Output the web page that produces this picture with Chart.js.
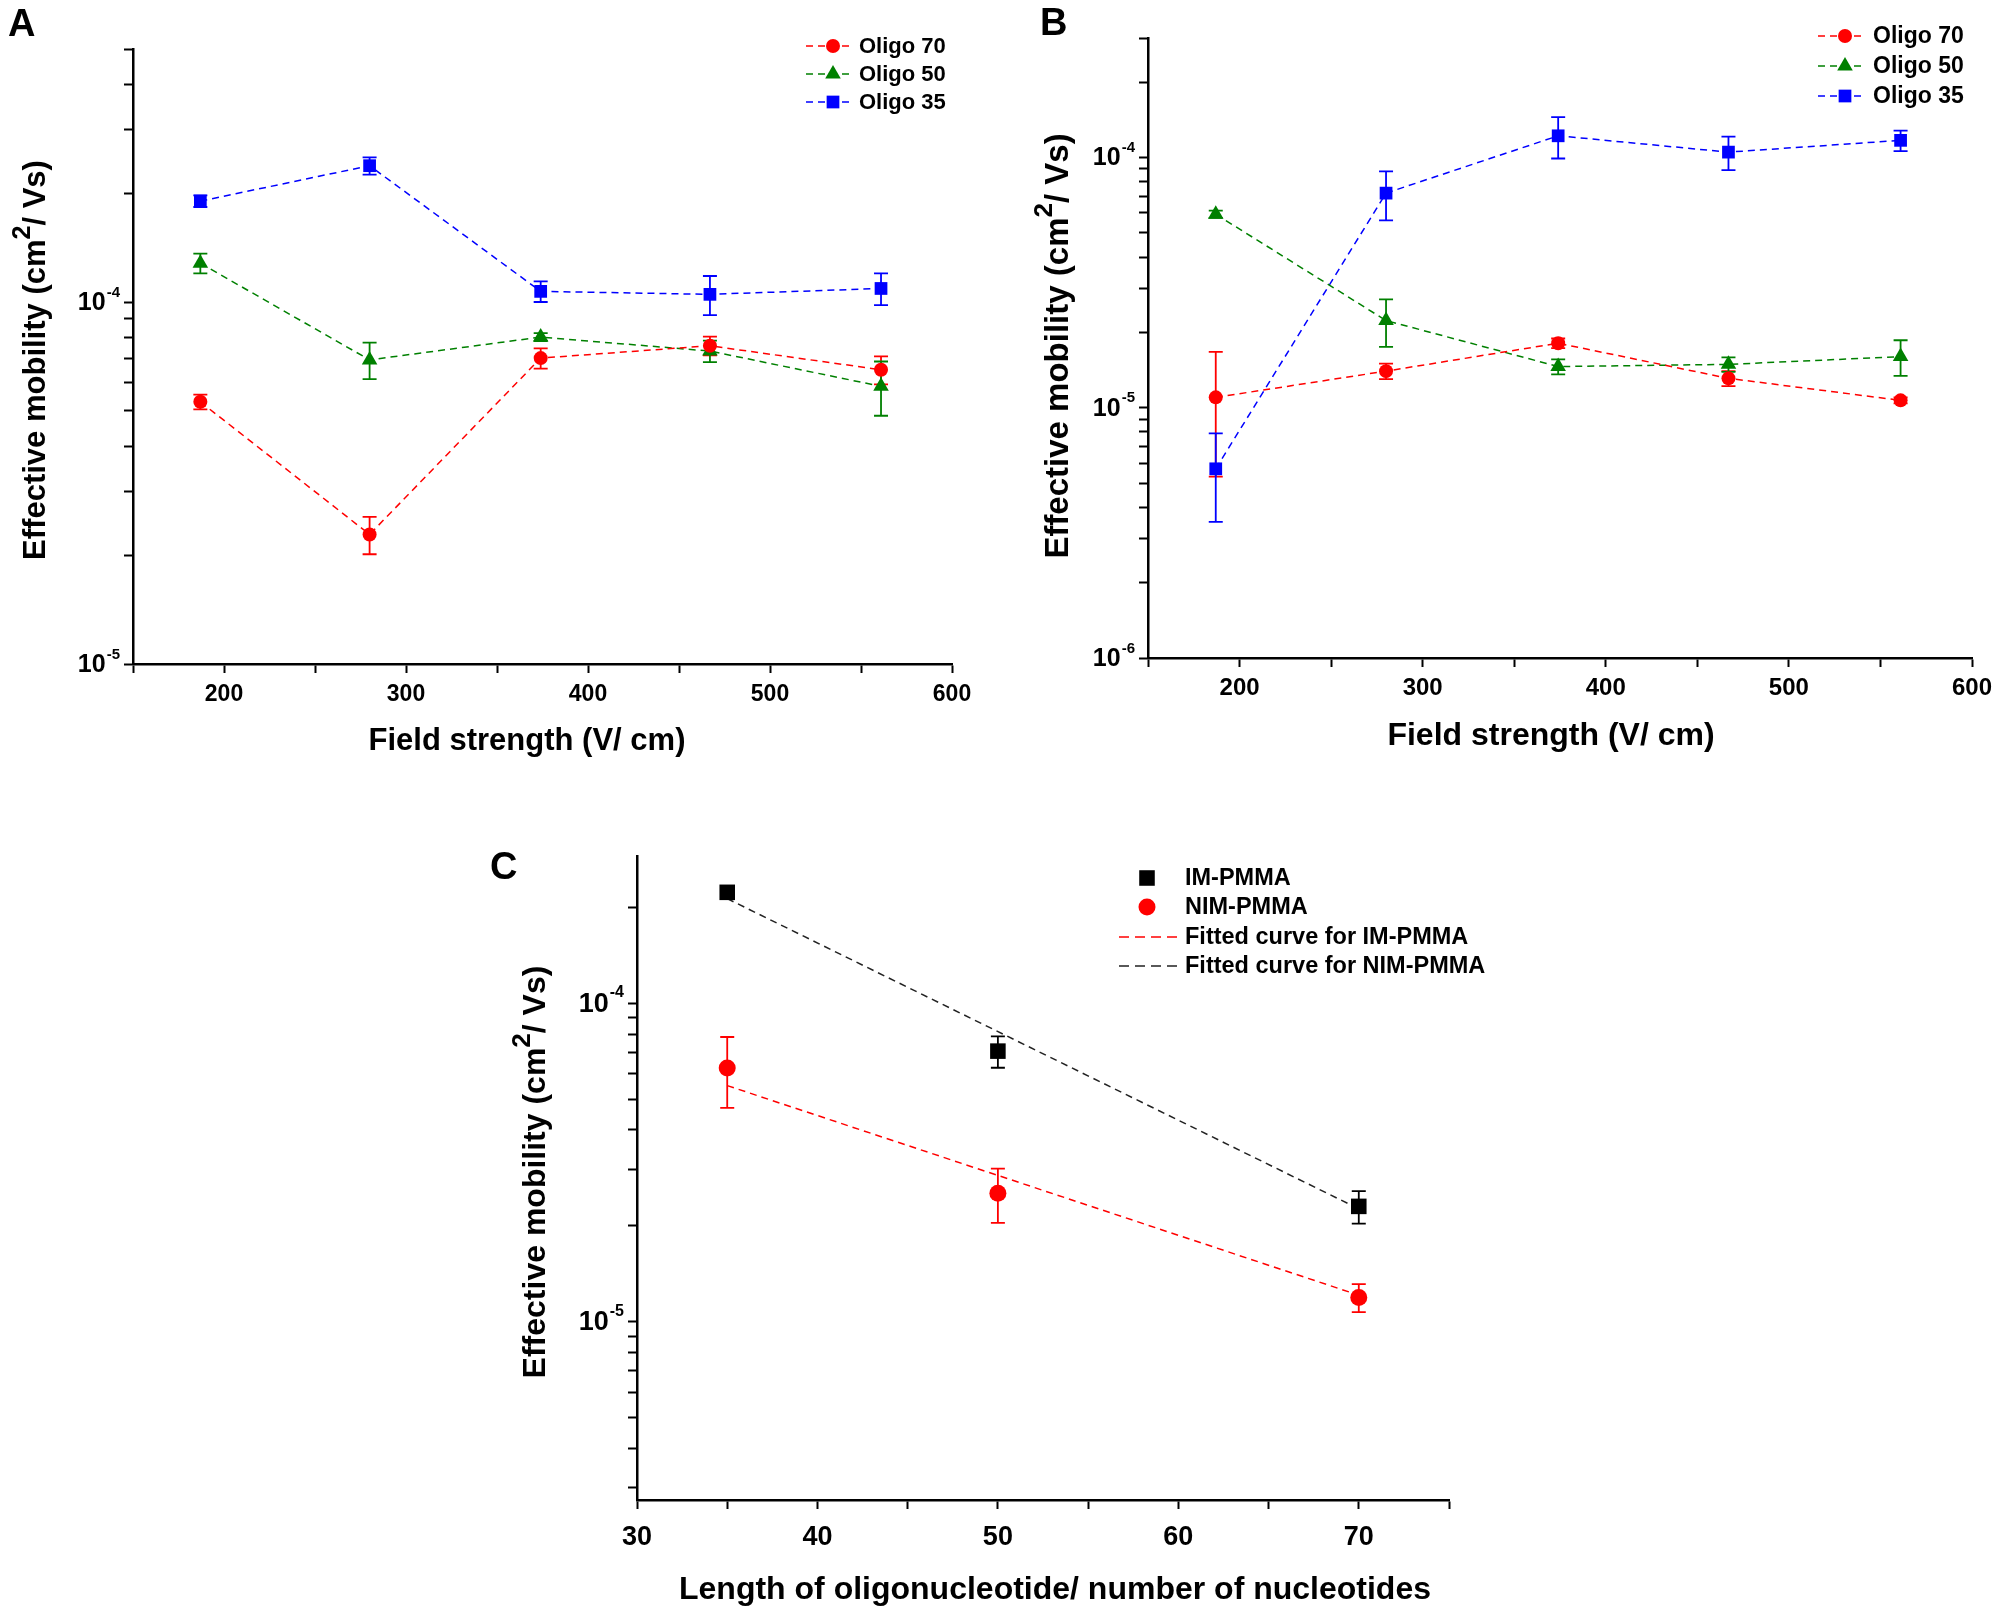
<!DOCTYPE html>
<html>
<head>
<meta charset="utf-8">
<script src="https://cdn.jsdelivr.net/npm/chart.js@4.4.0/dist/chart.umd.min.js"></script>
<style>
  body { margin: 0; background: #fff; width: 2010px; height: 1615px; position: relative; overflow: hidden; }
  canvas { position: absolute; left: 0; top: 0; }
</style>
</head>
<body>
<canvas id="chartA" width="2010" height="1615"></canvas>
<canvas id="chartB" width="2010" height="1615"></canvas>
<canvas id="chartC" width="2010" height="1615"></canvas>
<script>
// field strengths (V/cm) used in panels A and B
const fieldStrength = [187, 280, 374, 467, 561];

// panel A
const aOligo70 = [5.3e-5, 2.28e-5, 7.0e-5, 7.57e-5, 6.5e-5];
const aOligo70Err = [0.25e-5, 0.27e-5, 0.45e-5, 0.45e-5, 0.58e-5];
const aOligo50 = [1.28e-4, 6.92e-5, 8.0e-5, 7.32e-5, 5.85e-5];
const aOligo50Err = [0.08e-4, 0.8e-5, 0.2e-5, 0.5e-5, 1.0e-5];
const aOligo35 = [1.9e-4, 2.38e-4, 1.07e-4, 1.05e-4, 1.09e-4];
const aOligo35Err = [0.07e-4, 0.13e-4, 0.07e-4, 0.13e-4, 0.11e-4];

// panel B
const bOligo70 = [1.1e-5, 1.4e-5, 1.81e-5, 1.31e-5, 1.07e-5];
const bOligo70Err = [0.57e-5, 0.1e-5, 0.08e-5, 0.09e-5, 0.03e-5];
const bOligo50 = [5.93e-5, 2.23e-5, 1.46e-5, 1.49e-5, 1.6e-5];
const bOligo50Err = [0.2e-5, 0.48e-5, 0.1e-5, 0.1e-5, 0.26e-5];
const bOligo35 = [5.7e-6, 7.2e-5, 1.22e-4, 1.05e-4, 1.17e-4];
const bOligo35Err = [2.2e-6, 1.6e-5, 0.23e-4, 0.16e-4, 0.11e-4];

// panel C
const oligoLength = [35, 50, 70];
const imPmma = [2.23e-4, 7.07e-5, 2.3e-5];
const imPmmaErr = [0.1e-4, 0.8e-5, 0.27e-5];
const nimPmma = [6.26e-5, 2.53e-5, 1.19e-5];
const nimPmmaErr = [1.57e-5, 0.49e-5, 0.12e-5];
const fitLength = [35, 70];
const fitRedLine = [5.51e-5, 1.21e-5];
const fitBlackLine = [2.13e-4, 2.26e-5];

// labelled decades on the y axes
const aYDecades = [-5, -4];
const bYDecades = [-6, -5, -4];
const cYDecades = [-5, -4];

const FONT = "'Liberation Sans', Arial, sans-serif";
const RED = '#ff0000', GREEN = '#008000', BLUE = '#0000ff', BLACK = '#000000';
const Y_W = 70, X_H = 60;

Chart.defaults.font.family = FONT;

function pts(xs, ys) {
  return xs.map((x, i) => ({ x: x, y: ys[i] }));
}

// 1..9 x 10^k ticks inside the range
function logTicks(min, max) {
  const out = [];
  for (let k = Math.floor(Math.log10(min)); k <= Math.ceil(Math.log10(max)); k++) {
    for (let m = 1; m <= 9; m++) {
      const v = m * Math.pow(10, k);
      if (v >= min * 0.999 && v <= max * 1.001) out.push(v);
    }
  }
  return out;
}

function series(label, xs, ys, errs, color, style, radius, dash) {
  return {
    label: label,
    data: pts(xs, ys),
    errors: errs,
    borderColor: color,
    backgroundColor: color,
    borderWidth: 1.5,
    borderDash: dash || [7, 5],
    showLine: dash !== null,
    fill: false,
    tension: 0,
    pointStyle: style,
    pointRadius: radius,
    pointBackgroundColor: color,
    pointBorderColor: color,
    pointBorderWidth: 0
  };
}

function drawMarker(ctx, style, x, y, r, color) {
  ctx.save();
  ctx.fillStyle = color;
  ctx.beginPath();
  if (style === 'circle') {
    ctx.arc(x, y, r, 0, Math.PI * 2);
  } else if (style === 'triangle') {
    let a = 0;
    ctx.moveTo(x + Math.sin(a) * r, y - Math.cos(a) * r);
    a += 2 * Math.PI / 3;
    ctx.lineTo(x + Math.sin(a) * r, y - Math.cos(a) * r);
    a += 2 * Math.PI / 3;
    ctx.lineTo(x + Math.sin(a) * r, y - Math.cos(a) * r);
    ctx.closePath();
  } else {
    const s = r * Math.SQRT1_2;
    ctx.rect(x - s, y - s, 2 * s, 2 * s);
  }
  ctx.fill();
  ctx.restore();
}

const errorBarPlugin = {
  id: 'errorBars',
  beforeDatasetsDraw(chart) {
    const ctx = chart.ctx;
    const x = chart.scales.x, y = chart.scales.y;
    chart.data.datasets.forEach(ds => {
      if (!ds.errors) return;
      ctx.save();
      ctx.strokeStyle = ds.borderColor;
      ctx.lineWidth = 1.8;
      ds.data.forEach((p, i) => {
        const e = ds.errors[i];
        const px = x.getPixelForValue(p.x);
        const top = y.getPixelForValue(p.y + e);
        const bot = y.getPixelForValue(p.y - e);
        ctx.beginPath();
        ctx.moveTo(px, top); ctx.lineTo(px, bot);
        ctx.moveTo(px - 7, top); ctx.lineTo(px + 7, top);
        ctx.moveTo(px - 7, bot); ctx.lineTo(px + 7, bot);
        ctx.stroke();
      });
      ctx.restore();
    });
  }
};

function decorPlugin(cfg) {
  return {
    id: 'decor',
    afterDraw(chart) {
      const ctx = chart.ctx;
      const area = chart.chartArea;
      const yScale = chart.scales.y;
      ctx.save();
      ctx.fillStyle = '#000';

      // panel letter
      ctx.font = 'bold 38px ' + FONT;
      ctx.textAlign = 'left';
      ctx.textBaseline = 'alphabetic';
      ctx.fillText(cfg.letter, cfg.letterPos[0], cfg.letterPos[1]);

      // y tick labels 10^k
      ctx.textBaseline = 'middle';
      const ys = cfg.yTickSize;
      const supSize = Math.round(ys * 0.6);
      cfg.yDecades.forEach(k => {
        const py = yScale.getPixelForValue(Math.pow(10, k));
        const sup = String(k);
        ctx.font = 'bold ' + ys + 'px ' + FONT;
        const w1 = ctx.measureText('10').width;
        ctx.font = 'bold ' + supSize + 'px ' + FONT;
        const w2 = ctx.measureText(sup).width;
        const x0 = area.left - 14 - w1 - w2;
        ctx.font = 'bold ' + ys + 'px ' + FONT;
        ctx.textAlign = 'left';
        ctx.fillText('10', x0, py + 1);
        ctx.font = 'bold ' + supSize + 'px ' + FONT;
        ctx.fillText(sup, x0 + w1 + 1, py - ys * 0.38);
      });

      // x title
      ctx.font = 'bold ' + cfg.titleSize + 'px ' + FONT;
      ctx.textAlign = 'center';
      ctx.fillText(cfg.xTitle, cfg.xTitlePos[0], cfg.xTitlePos[1]);

      // y title with superscript 2
      ctx.translate(cfg.yTitlePos[0], cfg.yTitlePos[1]);
      ctx.rotate(-Math.PI / 2);
      const s = cfg.yTitleSize;
      const parts = [['Effective mobility (cm', s, 0], ['2', Math.round(s * 0.8), -s * 0.42], ['/ Vs)', s, 0]];
      let total = 0;
      parts.forEach(p => { ctx.font = 'bold ' + p[1] + 'px ' + FONT; total += ctx.measureText(p[0]).width; });
      let tx = -total / 2;
      ctx.textAlign = 'left';
      parts.forEach(p => {
        ctx.font = 'bold ' + p[1] + 'px ' + FONT;
        ctx.fillText(p[0], tx, p[2]);
        tx += ctx.measureText(p[0]).width;
      });
      ctx.restore();

      // legend
      const lg = cfg.legend;
      ctx.save();
      ctx.font = 'bold ' + lg.size + 'px ' + FONT;
      ctx.textBaseline = 'middle';
      ctx.fillStyle = '#000';
      chart.data.datasets.forEach((ds, i) => {
        const ry = lg.rows[i];
        if (ds.showLine) {
          ctx.save();
          ctx.strokeStyle = ds.borderColor;
          ctx.lineWidth = 1.5;
          ctx.setLineDash(lg.dash);
          ctx.beginPath();
          ctx.moveTo(lg.x0, ry); ctx.lineTo(lg.x1, ry);
          ctx.stroke();
          ctx.restore();
        }
        if (ds.pointRadius > 0) drawMarker(ctx, ds.pointStyle, lg.mx, ry, ds.pointRadius, ds.pointBackgroundColor);
        ctx.fillText(ds.label, lg.tx, ry + 1);
      });
      ctx.restore();
    }
  };
}

function makePanel(id, cfg) {
  return new Chart(document.getElementById(id), {
    type: 'line',
    data: { datasets: cfg.datasets },
    options: {
      responsive: false,
      animation: false,
      devicePixelRatio: 1,
      layout: {
        autoPadding: false,
        padding: {
          left: cfg.area.left - Y_W,
          top: cfg.area.top,
          right: 2010 - cfg.area.right,
          bottom: 1615 - cfg.area.bottom - X_H
        }
      },
      plugins: { legend: { display: false }, tooltip: { enabled: false } },
      scales: {
        x: {
          type: 'linear',
          min: cfg.xMin, max: cfg.xMax,
          afterFit: s => { s.height = X_H; s.paddingLeft = 0; s.paddingRight = 0; },
          border: { color: '#000', width: 2.5 },
          grid: { drawOnChartArea: false, tickLength: 9, tickWidth: 2, tickColor: '#000' },
          ticks: {
            stepSize: cfg.xStep,
            autoSkip: false,
            maxRotation: 0,
            color: '#000',
            padding: cfg.xPad,
            font: { weight: 'bold', size: cfg.tickSize },
            callback: v => (v % cfg.xLabelStep === 0 ? v : '')
          }
        },
        y: {
          type: 'logarithmic',
          min: cfg.yMin, max: cfg.yMax,
          afterBuildTicks: s => { s.ticks = logTicks(cfg.yMin, cfg.yMax).map(v => ({ value: v })); },
          afterFit: s => { s.width = Y_W; s.paddingTop = 0; s.paddingBottom = 0; },
          border: { color: '#000', width: 2.5 },
          grid: { drawOnChartArea: false, tickLength: 9, tickWidth: 2, tickColor: '#000' },
          ticks: { autoSkip: false, callback: () => '' }
        }
      }
    },
    plugins: [errorBarPlugin, decorPlugin(cfg)]
  });
}

makePanel('chartA', {
  area: { left: 133, top: 49, right: 952, bottom: 664 },
  xMin: 150, xMax: 600, xStep: 50, xLabelStep: 100, xPad: 8,
  yMin: 1e-5, yMax: 5e-4, yDecades: aYDecades,
  tickSize: 23, yTickSize: 25, titleSize: 31, yTitleSize: 31,
  letter: 'A', letterPos: [8, 36],
  xTitle: 'Field strength (V/ cm)', xTitlePos: [527, 741],
  yTitlePos: [36, 360],
  legend: { x0: 806, x1: 851, mx: 833, tx: 859, rows: [46, 74, 102], size: 22, dash: [7, 5] },
  datasets: [
    series('Oligo 70', fieldStrength, aOligo70, aOligo70Err, RED, 'circle', 7),
    series('Oligo 50', fieldStrength, aOligo50, aOligo50Err, GREEN, 'triangle', 9),
    series('Oligo 35', fieldStrength, aOligo35, aOligo35Err, BLUE, 'rect', 9)
  ]
});

makePanel('chartB', {
  area: { left: 1148, top: 38, right: 1972, bottom: 658 },
  xMin: 150, xMax: 600, xStep: 50, xLabelStep: 100, xPad: 7,
  yMin: 1e-6, yMax: 3e-4, yDecades: bYDecades,
  tickSize: 24, yTickSize: 25, titleSize: 32, yTitleSize: 33,
  letter: 'B', letterPos: [1040, 35],
  xTitle: 'Field strength (V/ cm)', xTitlePos: [1551, 736],
  yTitlePos: [1059, 346],
  legend: { x0: 1818, x1: 1866, mx: 1845, tx: 1873, rows: [36, 66, 96], size: 23, dash: [7, 5] },
  datasets: [
    series('Oligo 70', fieldStrength, bOligo70, bOligo70Err, RED, 'circle', 7),
    series('Oligo 50', fieldStrength, bOligo50, bOligo50Err, GREEN, 'triangle', 9),
    series('Oligo 35', fieldStrength, bOligo35, bOligo35Err, BLUE, 'rect', 9)
  ]
});

makePanel('chartC', {
  area: { left: 637, top: 856, right: 1449, bottom: 1500 },
  xMin: 30, xMax: 75, xStep: 5, xLabelStep: 10, xPad: 12,
  yMin: 2.75e-6, yMax: 2.9e-4, yDecades: cYDecades,
  tickSize: 27, yTickSize: 27, titleSize: 32, yTitleSize: 32,
  letter: 'C', letterPos: [490, 879],
  xTitle: 'Length of oligonucleotide/ number of nucleotides', xTitlePos: [1055, 1590],
  yTitlePos: [536, 1172],
  legend: { x0: 1119, x1: 1178, mx: 1147, tx: 1185, rows: [878, 907, 937, 966], size: 23.5, dash: [10, 6] },
  datasets: [
    series('IM-PMMA', oligoLength, imPmma, imPmmaErr, BLACK, 'rect', 11, null),
    series('NIM-PMMA', oligoLength, nimPmma, nimPmmaErr, RED, 'circle', 8.5, null),
    series('Fitted curve for IM-PMMA', fitLength, fitRedLine, null, RED, 'circle', 0, [7, 5]),
    series('Fitted curve for NIM-PMMA', fitLength, fitBlackLine, null, '#222222', 'circle', 0, [7, 5])
  ]
});
</script>
</body>
</html>
